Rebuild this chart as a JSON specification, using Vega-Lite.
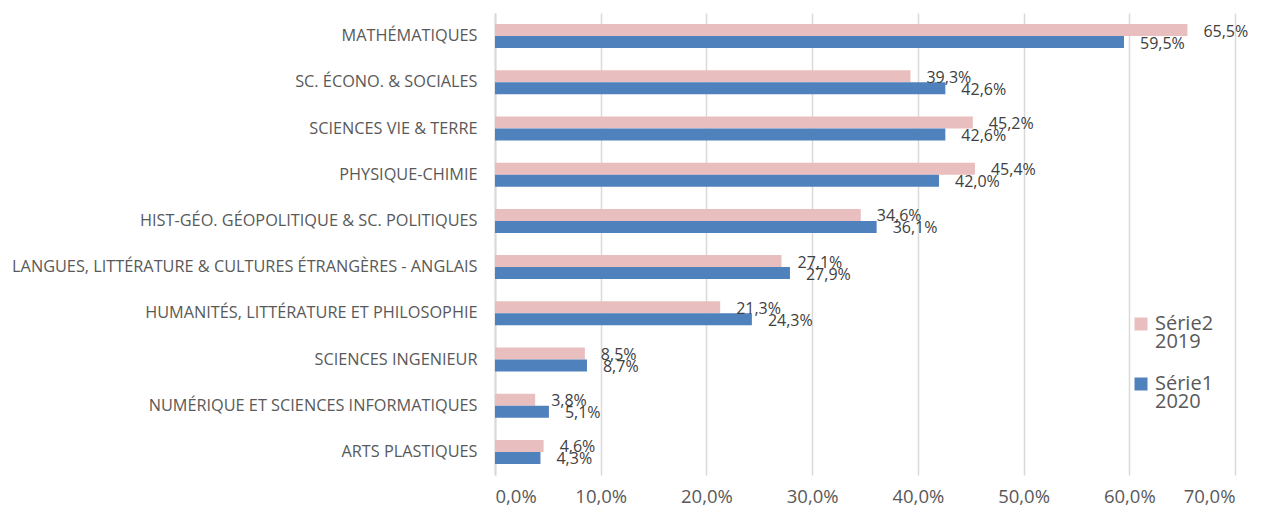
{
  "$schema": "https://vega.github.io/schema/vega-lite/v6.json",
  "autosize": {"type": "none"},
  "padding": {"left": 495, "top": 13, "right": 30, "bottom": 36},
  "width": 740,
  "height": 462,
  "background": "white",
  "config": {
    "view": {"stroke": null},
    "font": "Open Sans",
    "locale": {"number": {"decimal": ",", "thousands": " ", "grouping": [3], "currency": ["", " €"]}},
    "style": {"guide-label": {"lineHeight": 18}}
  },
  "data": {
    "values": [
      {"matiere": "MATHÉMATIQUES", "serie": "Série2", "valeur": 0.655},
      {"matiere": "MATHÉMATIQUES", "serie": "Série1", "valeur": 0.595},
      {"matiere": "SC. ÉCONO. & SOCIALES", "serie": "Série2", "valeur": 0.393},
      {"matiere": "SC. ÉCONO. & SOCIALES", "serie": "Série1", "valeur": 0.426},
      {"matiere": "SCIENCES VIE & TERRE", "serie": "Série2", "valeur": 0.452},
      {"matiere": "SCIENCES VIE & TERRE", "serie": "Série1", "valeur": 0.426},
      {"matiere": "PHYSIQUE-CHIMIE", "serie": "Série2", "valeur": 0.454},
      {"matiere": "PHYSIQUE-CHIMIE", "serie": "Série1", "valeur": 0.420},
      {"matiere": "HIST-GÉO. GÉOPOLITIQUE & SC. POLITIQUES", "serie": "Série2", "valeur": 0.346},
      {"matiere": "HIST-GÉO. GÉOPOLITIQUE & SC. POLITIQUES", "serie": "Série1", "valeur": 0.361},
      {"matiere": "LANGUES, LITTÉRATURE & CULTURES ÉTRANGÈRES - ANGLAIS", "serie": "Série2", "valeur": 0.271},
      {"matiere": "LANGUES, LITTÉRATURE & CULTURES ÉTRANGÈRES - ANGLAIS", "serie": "Série1", "valeur": 0.279},
      {"matiere": "HUMANITÉS, LITTÉRATURE ET PHILOSOPHIE", "serie": "Série2", "valeur": 0.213},
      {"matiere": "HUMANITÉS, LITTÉRATURE ET PHILOSOPHIE", "serie": "Série1", "valeur": 0.243},
      {"matiere": "SCIENCES INGENIEUR", "serie": "Série2", "valeur": 0.085},
      {"matiere": "SCIENCES INGENIEUR", "serie": "Série1", "valeur": 0.087},
      {"matiere": "NUMÉRIQUE ET SCIENCES INFORMATIQUES", "serie": "Série2", "valeur": 0.038},
      {"matiere": "NUMÉRIQUE ET SCIENCES INFORMATIQUES", "serie": "Série1", "valeur": 0.051},
      {"matiere": "ARTS PLASTIQUES", "serie": "Série2", "valeur": 0.046},
      {"matiere": "ARTS PLASTIQUES", "serie": "Série1", "valeur": 0.043}
    ]
  },
  "encoding": {
    "y": {
      "field": "matiere",
      "type": "nominal",
      "sort": null,
      "scale": {"paddingInner": 0.48, "paddingOuter": 0.24},
      "axis": {
        "title": null,
        "domain": true,
        "domainColor": "#d9d9d9",
        "domainWidth": 2,
        "ticks": false,
        "labelPadding": 18,
        "labelFont": "Open Sans",
        "labelFontSize": 16.3,
        "labelColor": "#595959",
        "labelLimit": 600
      }
    },
    "yOffset": {
      "field": "serie",
      "type": "nominal",
      "scale": {"domain": ["Série2", "Série1"]}
    },
    "x": {
      "field": "valeur",
      "type": "quantitative",
      "scale": {"domain": [0, 0.7], "nice": false},
      "axis": {
        "title": null,
        "values": [0, 0.1, 0.2, 0.3, 0.4, 0.5, 0.6, 0.7],
        "format": ".1%",
        "domain": false,
        "ticks": false,
        "grid": true,
        "gridColor": "#d9d9d9",
        "gridWidth": 1.5,
        "labelPadding": 12,
        "labelFont": "Open Sans",
        "labelFontSize": 18.5,
        "labelColor": "#595959"
      }
    }
  },
  "layer": [
    {
      "mark": {"type": "bar"},
      "encoding": {
        "color": {
          "field": "serie",
          "type": "nominal",
          "scale": {"domain": ["Série2", "Série1"], "range": ["#E8BFBE", "#4F81BD"]},
          "legend": {
            "title": null,
            "orient": "none",
            "legendX": 636,
            "legendY": 301,
            "symbolType": "square",
            "symbolSize": 169,
            "symbolStrokeWidth": 0,
            "rowPadding": 22,
            "labelFont": "Open Sans",
            "labelFontSize": 20,
            "labelColor": "#595959",
            "labelLimit": 200,
            "labelOffset": 4,
            "labelExpr": "[datum.label, datum.label == 'Série2' ? '2019' : '2020']"
          }
        }
      }
    },
    {
      "mark": {"type": "text", "align": "left", "baseline": "middle", "dx": 16, "dy": 1.5, "fontSize": 16, "color": "#404040", "font": "Open Sans"},
      "encoding": {
        "text": {"field": "valeur", "type": "quantitative", "format": ".1%"}
      }
    }
  ]
}
